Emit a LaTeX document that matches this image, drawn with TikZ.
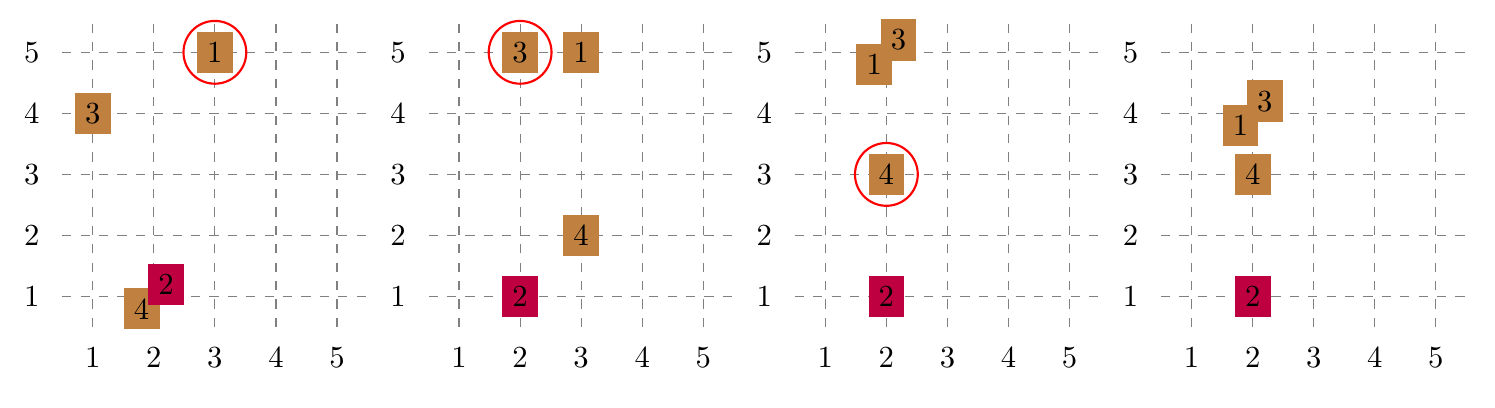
\documentclass[tikz,border=0pt]{standalone}
\begin{document}
\begin{tikzpicture}[x=0.7cm,y=0.7cm,
  gridline/.style={gray, dashed},
  tok/.style={fill=brown, inner sep=0.3333em},
  tokp/.style={fill=purple, inner sep=0.3333em},
  ring/.style={draw=red, line width=0.7pt}]
\useasboundingbox (-0.52,-0.815) rectangle (23.97,5.857);
\foreach \p/\o in {1/0,2/6,3/12,4/18} {
  \foreach \i in {1,...,5} {
    \draw[gridline] (\o+0.5,\i) -- (\o+5.5,\i);
    \draw[gridline] (\o+\i,0.5) -- (\o+\i,5.5);
    \node (xl\p\i) at (\o+\i,0) {\i};
    \node (yl\p\i) at (\o,\i) {\i};
  }
}
% panel 1
\node[tok] (a1) at (3,5) {1};
\node[tok] (a3) at (1,4) {3};
\node[tok] (a4) at (1.8,0.8) {4};
\node[tokp] (a2) at (2.2,1.2) {2};
\draw[ring] (a1.center) circle (0.36cm);
% panel 2
\node[tok] (b3) at (8,5) {3};
\node[tok] (b1) at (9,5) {1};
\node[tok] (b4) at (9,2) {4};
\node[tokp] (b2) at (8,1) {2};
\draw[ring] (b3.center) circle (0.36cm);
% panel 3
\node[tok] (c1) at (13.8,4.8) {1};
\node[tok] (c3) at (14.2,5.2) {3};
\node[tok] (c4) at (14,3) {4};
\node[tokp] (c2) at (14,1) {2};
\draw[ring] (c4.center) circle (0.36cm);
% panel 4
\node[tok] (d1) at (19.8,3.8) {1};
\node[tok] (d3) at (20.2,4.2) {3};
\node[tok] (d4) at (20,3) {4};
\node[tokp] (d2) at (20,1) {2};
\end{tikzpicture}
\end{document}
